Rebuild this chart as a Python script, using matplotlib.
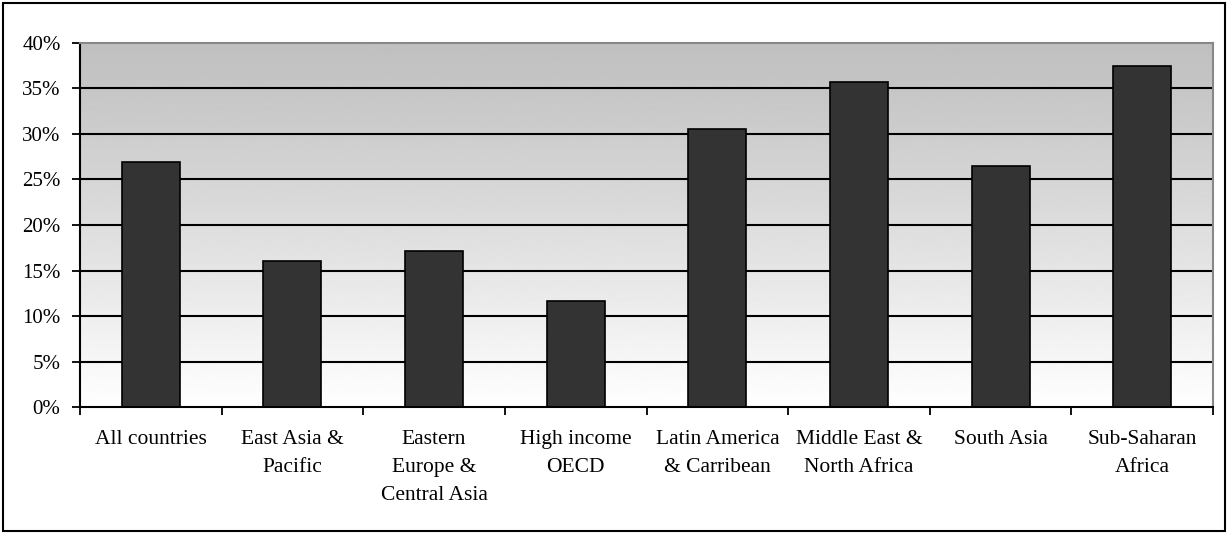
import matplotlib
matplotlib.use("Agg")
import matplotlib.pyplot as plt
import numpy as np
from matplotlib.patches import Rectangle
from matplotlib.ticker import FixedLocator, FuncFormatter

categories = ["All countries", "East Asia &\nPacific", "Eastern\nEurope &\nCentral Asia",
              "High income\nOECD", "Latin America\n& Carribean", "Middle East &\nNorth Africa",
              "South Asia", "Sub-Saharan\nAfrica"]
values = [26.9, 16.0, 17.2, 11.7, 30.5, 35.7, 26.5, 37.4]
yticks = [0, 5, 10, 15, 20, 25, 30, 35, 40]

plt.rcParams['font.family'] = ['Liberation Serif', 'DejaVu Serif']

fig = plt.figure(figsize=(12.28, 5.34), dpi=100)
fig.patches.append(Rectangle((3/1228, 3/534), 1222/1228, 528/534, transform=fig.transFigure,
                             fill=False, edgecolor='black', linewidth=1.5, zorder=0))

ax = fig.add_axes([80/1228, 1-407.3/534, (1213-80)/1228, (407.3-42.7)/534])

n = len(categories)
x = np.arange(n)

# gradient background (grey at top to white at bottom)
grad = np.linspace(0, 1, 256).reshape(-1, 1)
shade = 0.75 + 0.25 * grad ** 1.1
img = np.repeat(shade, 2, axis=1)
ax.imshow(img, extent=[-0.5, n - 0.5, 0, 40], origin='upper', cmap='gray', vmin=0, vmax=1,
          aspect='auto', zorder=0, interpolation='bilinear')
ax.set_xlim(-0.5, n - 0.5)
ax.set_ylim(0, 40)

for yv in yticks[1:-1]:
    ax.axhline(yv, color='black', linewidth=1.5, zorder=1)

ax.bar(x, values, width=0.41, color='#333333', edgecolor='black', linewidth=1.2, zorder=2)

ax.set_yticks(yticks)
ax.yaxis.set_major_formatter(FuncFormatter(lambda v, p: f"{int(v)}%"))
ax.tick_params(axis='y', direction='out', length=6, width=1.3, labelsize=15, pad=8, color='black')

ax.xaxis.set_major_locator(FixedLocator(np.arange(-0.5, n, 1.0)))
ax.xaxis.set_major_formatter(FuncFormatter(lambda v, p: ""))
ax.xaxis.set_minor_locator(FixedLocator(x))
ax.set_xticklabels(categories, minor=True, fontsize=15.5, linespacing=1.65)
ax.tick_params(axis='x', which='major', direction='out', length=6, width=1.3)
ax.tick_params(axis='x', which='minor', length=0, pad=16)

for side in ['top', 'right']:
    ax.spines[side].set_color('#888888')
    ax.spines[side].set_linewidth(1.5)
for side in ['left', 'bottom']:
    ax.spines[side].set_color('black')
    ax.spines[side].set_linewidth(1.5)

fig.savefig('out.png', dpi=100)
